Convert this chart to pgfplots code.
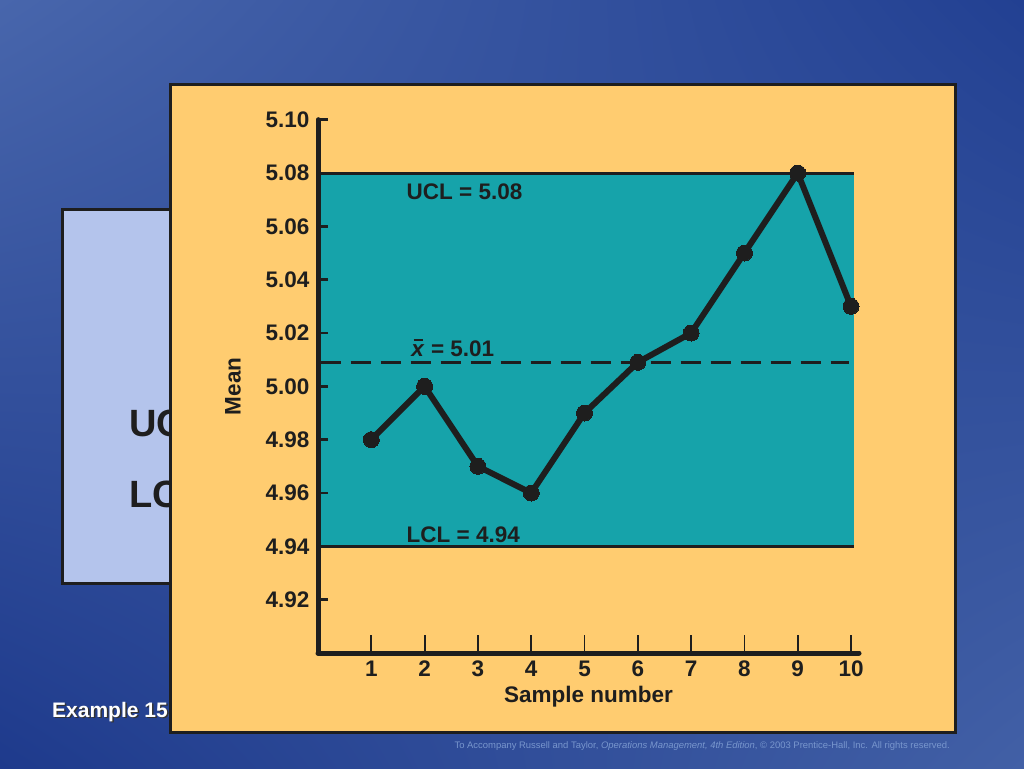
\documentclass[border=0pt]{standalone}
\usepackage{fontspec}
\setmainfont{Liberation Sans}
\usepackage{pgfplots}
\pgfplotsset{compat=1.18}
\usetikzlibrary{shadings}

\definecolor{bgA}{RGB}{72,102,172}
\definecolor{bgB}{RGB}{34,64,146}
\definecolor{bgC}{RGB}{30,58,140}
\definecolor{bgD}{RGB}{66,96,166}
\definecolor{panel}{RGB}{255,204,112}
\definecolor{band}{RGB}{22,163,170}
\definecolor{leftbox}{RGB}{180,196,236}
\definecolor{ink}{RGB}{30,30,30}
\definecolor{foot}{RGB}{120,150,205}

% x with a short bar over it
\newcommand{\xbar}{{\makebox[0pt][l]{\hspace{0.1em}\rule[0.66em]{0.4em}{0.09em}}\textit{x}}}

\begin{document}
\begin{tikzpicture}[x=1pt,y=1pt]
% slide background, 1024 x 768 px
\path[use as bounding box] (0,0) rectangle (1024,768);
\shade[upper left=bgA, upper right=bgB, lower left=bgC, lower right=bgD] (0,0) rectangle (1024,768);

% box behind the chart
\draw[line width=3pt, draw=ink, fill=leftbox] (62,184) rectangle (180,558);
\node[anchor=west, inner sep=0pt, text=ink, font=\fontsize{38}{38}\selectfont\bfseries] at (129,345) {UCL};
\node[anchor=west, inner sep=0pt, text=ink, font=\fontsize{38}{38}\selectfont\bfseries] at (129,274) {LCL};

% Example label
\node[anchor=west, inner sep=0pt, text=black!80, font=\fontsize{21}{21}\selectfont\bfseries] at (53.5,54.5) {Example 15.3};
\node[anchor=west, inner sep=0pt, text=white, font=\fontsize{21}{21}\selectfont\bfseries] at (52,56) {Example 15.3};

% chart panel
\draw[line width=3pt, draw=ink, fill=panel] (170,36) rectangle (955,683);

% footer
\node[anchor=east, inner sep=0pt, text=foot, font=\fontsize{9.45}{9.45}\selectfont] at (950,22)
  {To Accompany Russell and Taylor, \textit{Operations Management, 4th Edition}, \textcopyright{} 2003 Prentice-Hall, Inc. All rights reserved.};

\begin{axis}[
  at={(318pt,115pt)}, anchor=south west,
  scale only axis, width=541pt, height=533.3pt,
  xmin=0, xmax=10.15, ymin=4.90, ymax=5.10,
  axis lines=left,
  axis line style={-, line width=5pt, ink, line cap=round},
  axis on top, clip=false,
  xtick={1,...,10},
  ytick={4.92,4.94,4.96,4.98,5.00,5.02,5.04,5.06,5.08,5.10},
  tick align=inside,
  xtick style={/pgfplots/major tick length=18pt, line width=1.8pt, ink},
  ytick style={/pgfplots/major tick length=10pt, line width=2.5pt, ink},
  yticklabel style={xshift=-5pt, /pgf/number format/.cd, fixed, fixed zerofill, precision=2},
  /pgf/number format/assume math mode=true,
  tick label style={font=\fontsize{22.5}{22.5}\selectfont\bfseries, text=ink},
  xticklabel style={yshift=-4pt},
  xlabel={Sample number}, ylabel={Mean},
  label style={font=\fontsize{22.5}{22.5}\selectfont\bfseries, text=ink},
  xlabel style={yshift=-3pt},
  ylabel style={yshift=18pt},
]
% control band
\addplot[draw=none, fill=band] coordinates {(0,4.94) (10.06,4.94) (10.06,5.08) (0,5.08)} -- cycle;
% UCL and LCL
\addplot[ink, line width=3pt] coordinates {(0,5.08) (10.06,5.08)};
\addplot[ink, line width=3pt] coordinates {(0,4.94) (10.06,4.94)};
% centre line
\addplot[ink, line width=3pt, dash pattern=on 20pt off 10pt] coordinates {(0.05,5.009) (9.97,5.009)};
% sample means
\addplot[ink, line width=6pt, line join=round, mark=*, mark size=8pt,
  mark options={solid, fill=ink, line width=0pt}] coordinates {
(1,4.98) (2,5.00) (3,4.97) (4,4.96) (5,4.99) (6,5.009) (7,5.02) (8,5.05) (9,5.08) (10,5.03)};

\node[anchor=west, inner sep=0pt, text=ink, font=\fontsize{22.5}{22.5}\selectfont\bfseries] at (axis cs:1.66,5.073) {UCL = 5.08};
\node[anchor=west, inner sep=0pt, text=ink, font=\fontsize{22.5}{22.5}\selectfont\bfseries] at (axis cs:1.66,4.9444) {LCL = 4.94};
\node[anchor=west, inner sep=0pt, text=ink, font=\fontsize{22.5}{22.5}\selectfont\bfseries] at (axis cs:1.75,5.0145) {\xbar{} = 5.01};
\end{axis}
\end{tikzpicture}
\end{document}
